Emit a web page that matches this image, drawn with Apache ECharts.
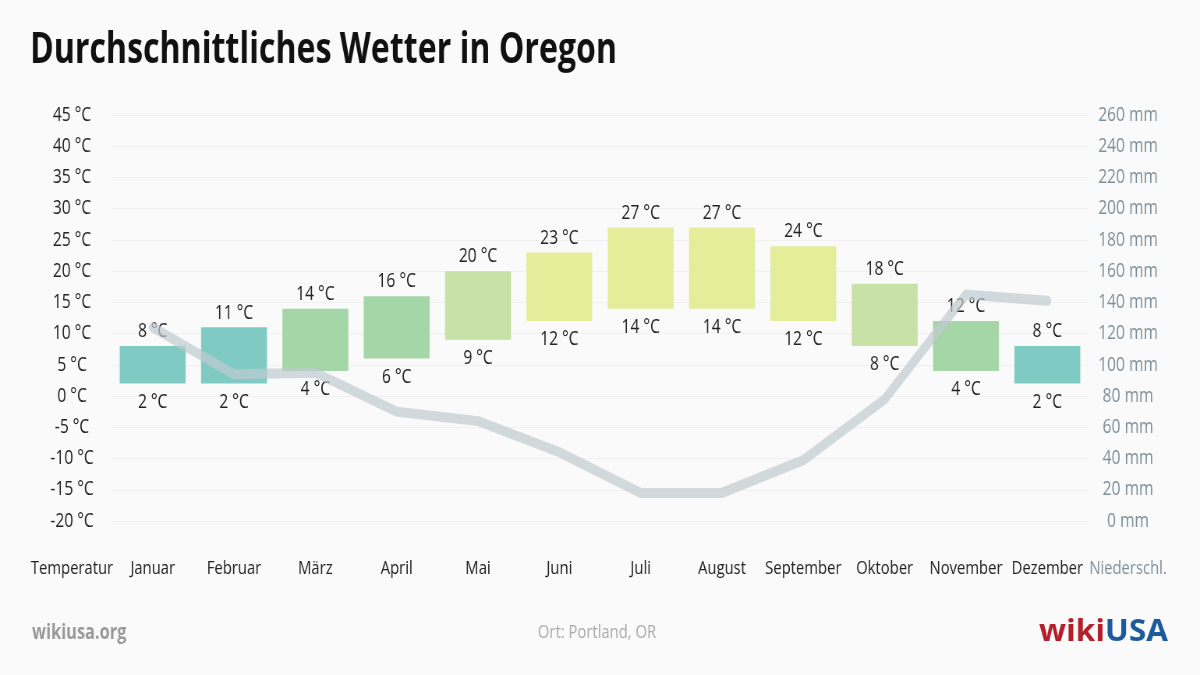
<!DOCTYPE html>
<html><head><meta charset="utf-8">
<script src="https://cdn.jsdelivr.net/npm/echarts@6/dist/echarts.min.js"></script>
<style>html,body{margin:0;padding:0;background:#fafafa;overflow:hidden;width:1200px;height:675px}#c{height:675px;transform-origin:0 0}</style>
</head><body><div id="c"></div>
<script>
const months = ['Januar','Februar','März','April','Mai','Juni','Juli','August','September','Oktober','November','Dezember'];
const tempHigh = [8, 11, 14, 16, 20, 23, 27, 27, 24, 18, 12, 8];
const tempLow = [2, 2, 4, 6, 9, 12, 14, 14, 12, 8, 4, 2];
const precipitation = [124, 94, 95, 70, 64, 44, 18, 18, 39, 78, 145, 141];
const titleText = 'Durchschnittliches Wetter in Oregon';
const leftAxisName = 'Temperatur';
const rightAxisName = 'Niederschl.';
const placeText = 'Ort: Portland, OR';

// condensed look: draw in a wider canvas and squeeze horizontally
const W = 1539;
const S = 1200 / W;
const el = document.getElementById('c');
el.style.width = W + 'px';
el.style.transform = 'scaleX(' + S + ')';
const X = v => v / S;

const FONT = '"Open Sans", sans-serif';
const INK = '#222';
const FW = 400;
function barColor(high) {
  if (high < 12) return '#7fcbc4';
  if (high <= 16) return '#a5d6a7';
  if (high <= 20) return '#c7e1a6';
  return '#e5ed9b';
}
const rangeData = months.map((m, i) => [i, tempLow[i], tempHigh[i]]);

// title width fit
const ctx = document.createElement('canvas').getContext('2d');
ctx.font = 'bold 43px ' + FONT;
const titleScale = X(587) / ctx.measureText(titleText).width;
ctx.font = 'bold 30px ' + FONT;
const logoScale = 129 / S / ctx.measureText('wikiUSA').width;

const chart = echarts.init(el, null, {renderer: 'canvas'});
chart.setOption({
  backgroundColor: '#fafafa',
  animation: false,
  textStyle: {fontFamily: FONT},
  grid: {left: X(112), right: X(112), top: 115, bottom: 154},
  xAxis: {
    type: 'category', data: months,
    axisLine: {show: false}, axisTick: {show: false},
    axisLabel: {margin: 38, fontSize: 19, color: INK, fontFamily: FONT, fontWeight: FW, interval: 0}
  },
  yAxis: [{
    type: 'value', min: -20, max: 45, interval: 5,
    axisLabel: {formatter: '{value} °C', align: 'center', verticalAlign: 'middle', margin: X(40), fontSize: 20, color: INK, fontFamily: FONT, fontWeight: FW},
    splitLine: {lineStyle: {color: '#f0f0f0'}},
    axisLine: {show: false}, axisTick: {show: false}
  }, {
    type: 'value', min: 0, max: 260, interval: 20,
    axisLabel: {formatter: '{value} mm', align: 'center', verticalAlign: 'middle', margin: X(40), fontSize: 20, color: '#7f8f99', fontFamily: FONT, fontWeight: FW},
    splitLine: {show: false},
    axisLine: {show: false}, axisTick: {show: false}
  }],
  series: [{
    type: 'custom', yAxisIndex: 0, z: 2,
    data: rangeData,
    encode: {x: 0, y: [1, 2]},
    renderItem: function (params, api) {
      const i = api.value(0);
      const lo = api.coord([i, api.value(1)]);
      const hi = api.coord([i, api.value(2)]);
      const w = api.size([1, 0])[0] * 0.81;
      return {
        type: 'group',
        children: [{
          type: 'rect',
          shape: {x: lo[0] - w / 2, y: hi[1], width: w, height: lo[1] - hi[1]},
          style: {fill: barColor(api.value(2))}
        }, {
          type: 'text',
          style: {text: api.value(2) + ' °C', x: hi[0], y: hi[1] - 14.5, align: 'center', verticalAlign: 'middle',
                   font: FW + ' 20px ' + FONT, fill: INK}
        }, {
          type: 'text',
          style: {text: api.value(1) + ' °C', x: lo[0], y: lo[1] + 18.5, align: 'center', verticalAlign: 'middle',
                   font: FW + ' 20px ' + FONT, fill: INK}
        }]
      };
    }
  }, {
    type: 'line', yAxisIndex: 1, z: 5,
    data: precipitation,
    symbol: 'none',
    lineStyle: {color: '#c0cbd0', width: 10, opacity: 0.7, cap: 'round', join: 'miter'}
  }],
  graphic: [
    {type: 'text', x: X(30), y: 51, scaleX: titleScale, style: {text: titleText, verticalAlign: 'middle', font: 'bold 43px ' + FONT, fill: '#111'}},
    {type: 'text', x: X(72), y: 568.5, style: {text: leftAxisName, align: 'center', verticalAlign: 'middle', font: FW + ' 19px ' + FONT, fill: INK}},
    {type: 'text', x: X(1128), y: 568.5, style: {text: rightAxisName, align: 'center', verticalAlign: 'middle', font: FW + ' 19px ' + FONT, fill: '#7f8f99'}},
    {type: 'text', x: X(32), y: 633, style: {text: 'wikiusa.org', verticalAlign: 'middle', font: 'bold 21px ' + FONT, fill: '#999'}},
    {type: 'text', x: X(597), y: 633, style: {text: placeText, align: 'center', verticalAlign: 'middle', font: FW + ' 19px ' + FONT, fill: '#aaa'}},
    {type: 'text', x: X(1168), y: 632, scaleX: logoScale, style: {
      text: '{r|wiki}{b|USA}', align: 'right', verticalAlign: 'middle',
      rich: {r: {font: 'bold 30px "Open Sans", sans-serif', fill: '#b3202a'}, b: {font: 'bold 30px "Open Sans", sans-serif', fill: '#1d5a9c'}}
    }}
  ]
});
</script></body></html>
